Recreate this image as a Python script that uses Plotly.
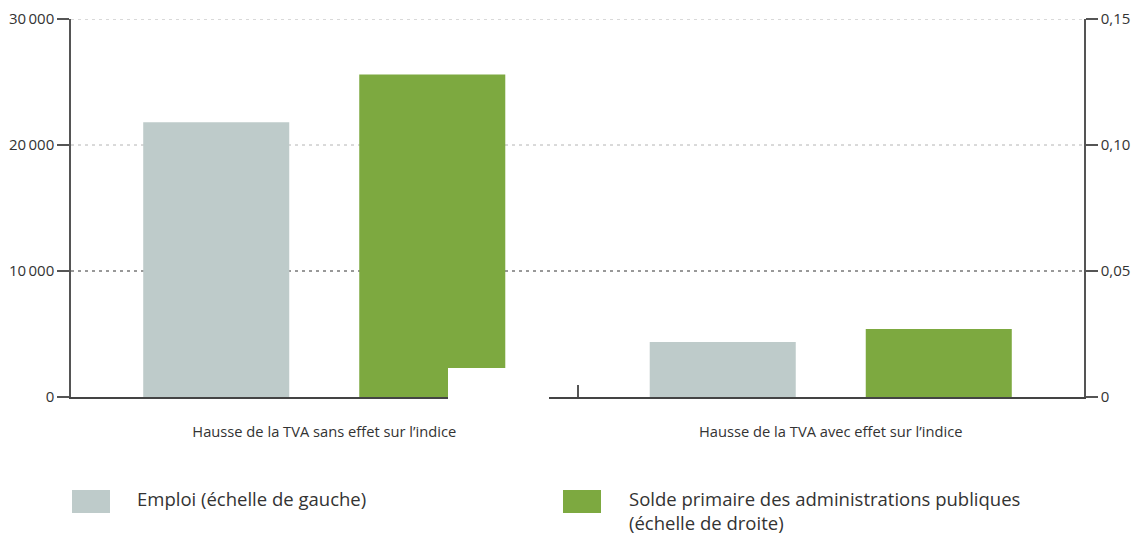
import plotly.graph_objects as go

# Scenarios (categories on the x axis)
categories = [
    "Hausse de la TVA sans effet sur l’indice",
    "Hausse de la TVA avec effet sur l’indice",
]

# Series values
emploi = [21800, 4370]          # left scale
solde_primaire = [0.128, 0.027]  # right scale

series_names = [
    "Emploi (échelle de gauche)",
    "Solde primaire des administrations publiques<br>(échelle de droite)",
]

# Tick labels
left_tickvals = [0, 10000, 20000, 30000]
left_ticktext = ["0", "10\u2009000", "20\u2009000", "30\u2009000"]
right_tickvals = [0, 0.05, 0.10, 0.15]
right_ticktext = ["0", "0,05", "0,10", "0,15"]
emphasised_level = 10000

GREY = "#BECBCA"
GREEN = "#7DA940"
AXIS = "#555555"
TEXT = "#333333"
FONT = "Open Sans"

W, H = 1141, 536
ML, MR, MT, MB = 71, 57, 19, 139
PW, PH = W - ML - MR, H - MT - MB


def px_x(x):
    return (x - ML) / PW


def px_y(y):
    return (H - MB - y) / PH


fig = go.Figure()
fig.add_trace(go.Bar(
    x=categories, y=emploi, name=series_names[0],
    marker=dict(color=GREY, line=dict(width=0)),
    offsetgroup="1", yaxis="y",
))
fig.add_trace(go.Bar(
    x=categories, y=solde_primaire, name=series_names[1],
    marker=dict(color=GREEN, line=dict(width=0)),
    offsetgroup="2", yaxis="y2",
))

shapes = []
# dashed horizontal grid, the middle level drawn darker
for v in left_tickvals[1:]:
    dark = v == emphasised_level
    shapes.append(dict(
        type="line", xref="paper", x0=0, x1=1, yref="y", y0=v, y1=v,
        line=dict(color="#333333" if dark else "#B4B4B4", width=1,
                  dash="3px,4px"),
        layer="between"))

# blank panel over the lower corner of the first group
shapes.append(dict(type="rect", xref="paper", yref="paper",
                   x0=px_x(448), x1=px_x(549), y0=px_y(402), y1=px_y(368),
                   fillcolor="white", line=dict(width=0), layer="above"))

# Legend drawn as swatches and text below the plot
annotations = []
legend_items = [
    (72, 136, GREY, series_names[0]),
    (563, 628, GREEN, series_names[1]),
]
for sx, tx, col, name in legend_items:
    shapes.append(dict(type="rect", xref="paper", yref="paper",
                       x0=px_x(sx), x1=px_x(sx + 38),
                       y0=px_y(513), y1=px_y(490),
                       fillcolor=col, line=dict(width=0)))
    annotations.append(dict(xref="paper", yref="paper",
                            x=px_x(tx), y=px_y(485), xanchor="left",
                            yanchor="top", align="left", showarrow=False,
                            borderpad=0, text=name,
                            font=dict(family=FONT, size=18.5, color=TEXT)))

fig.update_layout(
    width=W, height=H,
    margin=dict(l=ML, r=MR, t=MT, b=MB, pad=0, autoexpand=False),
    paper_bgcolor="white", plot_bgcolor="white",
    showlegend=False,
    barmode="group", bargap=0.147, bargroupgap=0.324,
    font=dict(family=FONT, color=TEXT),
    xaxis=dict(
        type="category", showgrid=False, tickson="boundaries",
        ticks="inside", ticklen=12, tickwidth=1.5, tickcolor=AXIS,
        showline=True, linecolor="#444444", linewidth=1.5,
        tickfont=dict(size=14.7, color=TEXT), ticklabelstandoff=21,
        automargin=False,
    ),
    yaxis=dict(
        range=[0, 30000], tickvals=left_tickvals, ticktext=left_ticktext,
        showgrid=False,
        showline=True, linecolor=AXIS, linewidth=1.5,
        ticks="outside", ticklen=12, tickwidth=1.5, tickcolor=AXIS,
        tickfont=dict(size=15, color=TEXT), zeroline=False,
        automargin=False,
    ),
    yaxis2=dict(
        range=[0, 0.15], tickvals=right_tickvals, ticktext=right_ticktext,
        overlaying="y", side="right", showgrid=False,
        showline=True, linecolor=AXIS, linewidth=1.5,
        ticks="outside", ticklen=12, tickwidth=1.5, tickcolor=AXIS,
        tickfont=dict(size=15, color=TEXT), zeroline=False,
        automargin=False,
    ),
    shapes=shapes,
    annotations=annotations,
)

fig.write_html("out.html")
